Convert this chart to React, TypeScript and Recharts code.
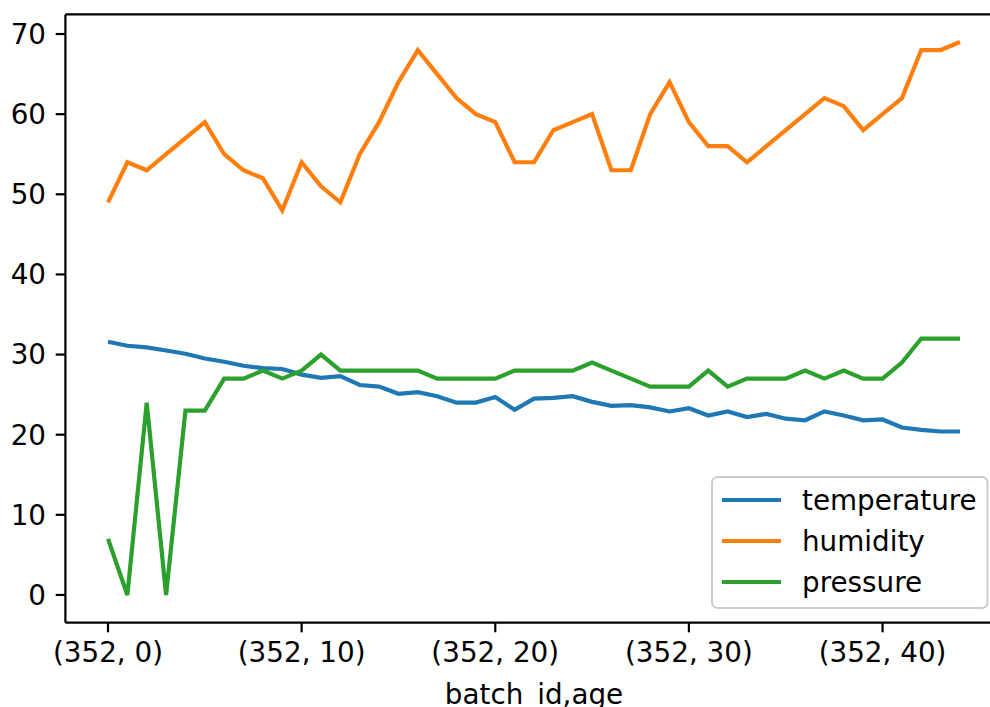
import React from 'react';
import { LineChart, Line, XAxis, YAxis, Legend, ReferenceLine } from 'recharts';

const batchId = 352;
const ages = [
  0, 1, 2, 3, 4, 5, 6, 7, 8, 9, 10, 11, 12, 13, 14, 15, 16, 17, 18, 19, 20, 21, 22,
  23, 24, 25, 26, 27, 28, 29, 30, 31, 32, 33, 34, 35, 36, 37, 38, 39, 40, 41, 42, 43, 44,
];
const temperature = [
  31.6, 31.1, 30.9, 30.5, 30.1, 29.5, 29.1, 28.6, 28.3, 28.2, 27.5, 27.1, 27.3, 26.2, 26.0,
  25.1, 25.3, 24.8, 24.0, 24.0, 24.7, 23.1, 24.5, 24.6, 24.8, 24.1, 23.6, 23.7, 23.4, 22.9,
  23.3, 22.4, 22.9, 22.2, 22.6, 22.0, 21.8, 22.9, 22.4, 21.8, 21.9, 20.9, 20.6, 20.4, 20.4,
];
const humidity = [
  49, 54, 53, 55, 57, 59, 55, 53, 52, 48, 54, 51, 49, 55, 59, 64, 68, 65, 62, 60, 59, 54, 54,
  58, 59, 60, 53, 53, 60, 64, 59, 56, 56, 54, 56, 58, 60, 62, 61, 58, 60, 62, 68, 68, 69,
];
const pressure = [
  7, 0, 24, 0, 23, 23, 27, 27, 28, 27, 28, 30, 28, 28, 28, 28, 28, 27, 27, 27, 27, 28, 28,
  28, 28, 29, 28, 27, 26, 26, 26, 28, 26, 27, 27, 27, 28, 27, 28, 27, 27, 29, 32, 32, 32,
];
const seriesOrder = ['temperature', 'humidity', 'pressure'];
const xTicks = [0, 10, 20, 30, 40];
const yTicks = [0, 10, 20, 30, 40, 50, 60, 70];

const rows = ages.map((age, i) => ({
  age,
  temperature: temperature[i],
  humidity: humidity[i],
  pressure: pressure[i],
}));

const FONT = '"DejaVu Sans", sans-serif';
const FS = 27.8;
const X_DOMAIN: [number, number] = [-2.2, 46.2];
const Y_DOMAIN: [number, number] = [-3.45, 72.45];

// legend drawn as a framed box, entries kept in plotting order
function LegendBox({ payload }: any) {
  const items = [...(payload || [])].sort(
    (a: any, b: any) => seriesOrder.indexOf(a.value) - seriesOrder.indexOf(b.value)
  );
  return (
    <svg width={278} height={133} style={{ display: 'block' }}>
      <rect x={1} y={1} width={275.5} height={131} rx={5.5} fill="#fff" fillOpacity={0.8} stroke="#cccccc" strokeWidth={2} />
      {items.map((it: any, i: number) => {
        const cy = 24 + i * 41;
        return (
          <g key={it.value}>
            <line x1={11} x2={70} y1={cy} y2={cy} stroke={it.color} strokeWidth={4.2} />
            <text x={91} y={cy + 9.5} fontSize={FS} fontFamily={FONT} fill="#000">
              {it.value}
            </text>
          </g>
        );
      })}
    </svg>
  );
}

export default function App() {
  return (
    <div style={{ position: 'fixed', left: 0, top: 0, width: 990, height: 707, overflow: 'hidden', background: '#fff' }}>
      <LineChart
        width={1004}
        height={707}
        data={rows}
        margin={{ top: 14.4, right: 1.4, bottom: 0, left: 0 }}
      >
        <XAxis
          dataKey="age"
          type="number"
          domain={X_DOMAIN}
          ticks={xTicks}
          allowDataOverflow
          height={84.4}
          tickFormatter={(v: number) => `(${batchId}, ${v})`}
          tick={{ fontSize: FS, fontFamily: FONT, fill: '#000' }}
          tickSize={9.7}
          tickMargin={10}
          stroke="#000"
          strokeWidth={2.2}
          label={{
            value: 'batch_id,age',
            position: 'insideBottom',
            offset: 3,
            fontSize: FS,
            fontFamily: FONT,
            fill: '#000',
          }}
        />
        <YAxis
          type="number"
          domain={Y_DOMAIN}
          ticks={yTicks}
          allowDataOverflow
          width={65.4}
          tick={{ fontSize: FS, fontFamily: FONT, fill: '#000' }}
          tickSize={9.7}
          tickMargin={9.7}
          stroke="#000"
          strokeWidth={2.2}
        />
        <ReferenceLine y={Y_DOMAIN[1]} stroke="#000" strokeWidth={2.2} />
        <Line type="linear" dataKey="temperature" name="temperature" stroke="#1f77b4" strokeWidth={4.2} dot={false} isAnimationActive={false} />
        <Line type="linear" dataKey="humidity" name="humidity" stroke="#ff7f0e" strokeWidth={4.2} dot={false} isAnimationActive={false} />
        <Line type="linear" dataKey="pressure" name="pressure" stroke="#2ca02c" strokeWidth={4.2} dot={false} isAnimationActive={false} />
        <Legend
          layout="vertical"
          align="center"
          verticalAlign="middle"
          content={<LegendBox />}
          wrapperStyle={{ position: 'absolute', left: 711, top: 476, width: 278, height: 133, bottom: 'auto', right: 'auto' }}
        />
      </LineChart>
    </div>
  );
}
